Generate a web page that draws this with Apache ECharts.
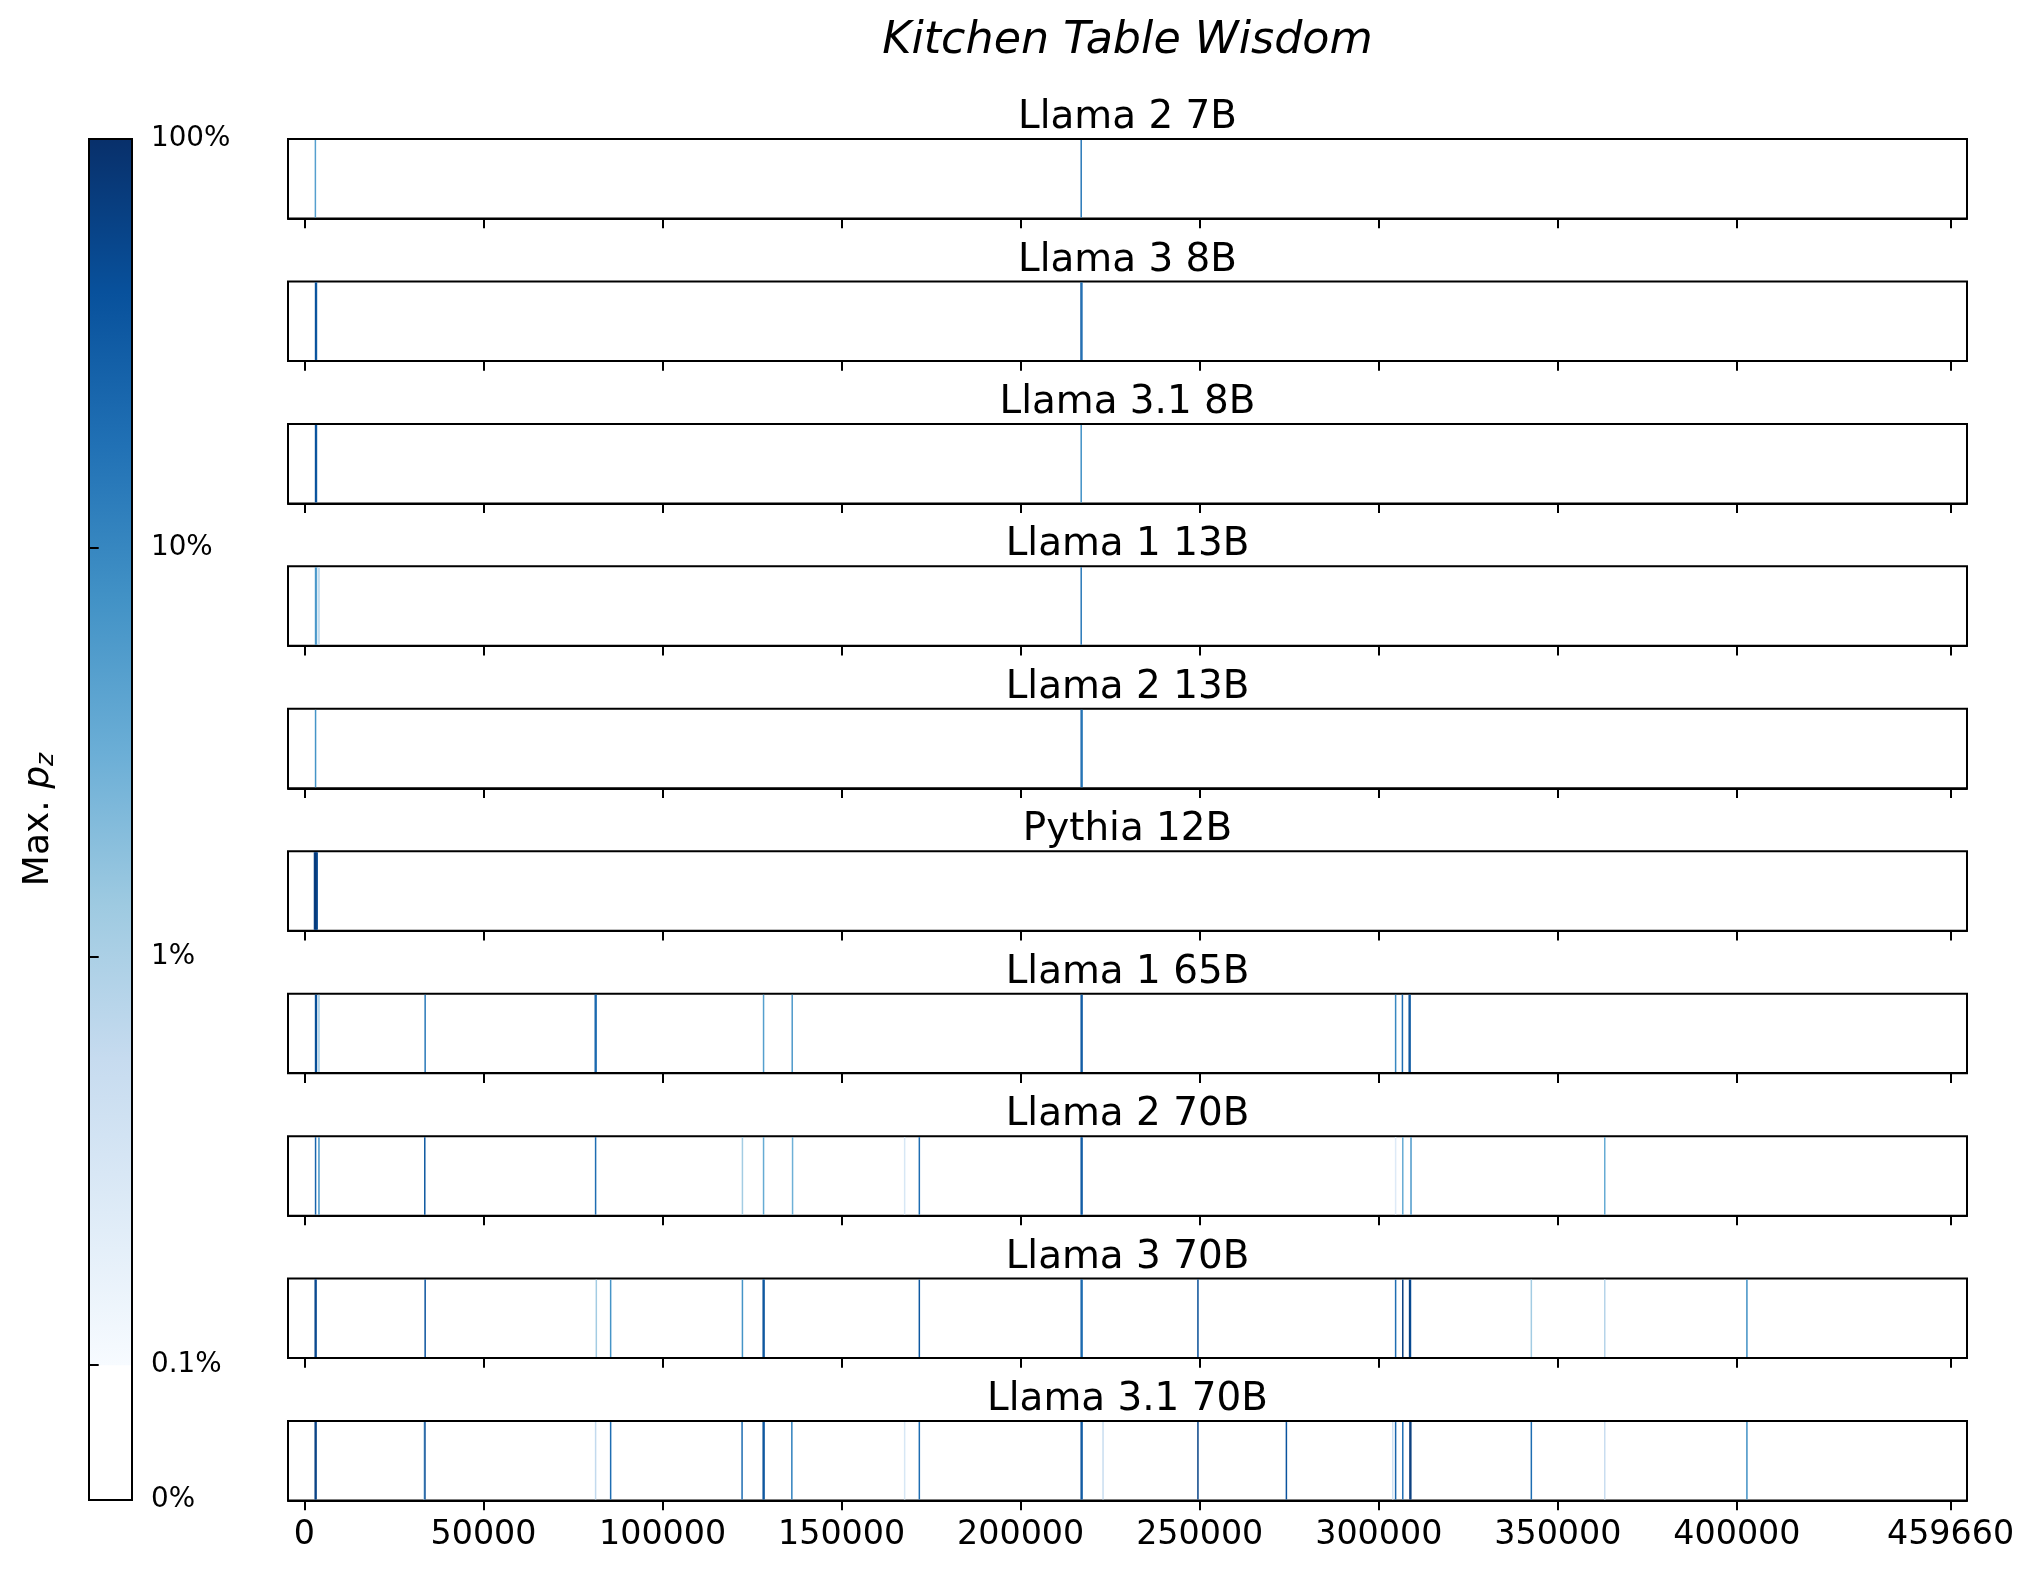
<!DOCTYPE html>
<html>
<head>
<meta charset="utf-8">
<title>Kitchen Table Wisdom</title>
<script src="https://cdn.jsdelivr.net/npm/echarts@6/dist/echarts.min.js"></script>
<style>
  html, body { margin: 0; padding: 0; background: #fff; }
  #chart { width: 2035px; height: 1573px; }
</style>
</head>
<body>
<div id="chart"></div>
<script>
// ── data ──────────────────────────────────────────────
const MODELS = [
  'Llama 2 7B', 'Llama 3 8B', 'Llama 3.1 8B', 'Llama 1 13B', 'Llama 2 13B',
  'Pythia 12B', 'Llama 1 65B', 'Llama 2 70B', 'Llama 3 70B', 'Llama 3.1 70B',
]
const N_TOKENS    = 459660
const X_TICKS     = [0, 50000, 100000, 150000, 200000, 250000, 300000, 350000, 400000, 459660]
const CBAR_TICKS  = [0, 0.001, 0.01, 0.1, 1]
const CBAR_LABELS = ['0%', '0.1%', '1%', '10%', '100%']

// token positions with a hit, and the max p_z found there (fraction)
const LLAMA2_7B_POS   = [3050, 216900]
const LLAMA2_7B_PZ    = [0.05, 0.15]
const LLAMA3_8B_POS   = [3100, 3350, 216850, 217100]
const LLAMA3_8B_PZ    = [0.45, 0.35, 0.3, 0.2]
const LLAMA31_8B_POS  = [3100, 3350, 216900]
const LLAMA31_8B_PZ   = [0.45, 0.35, 0.08]
const LLAMA1_13B_POS  = [3100, 3350, 4050, 216900]
const LLAMA1_13B_PZ   = [0.07, 0.05, 0.008, 0.15]
const LLAMA2_13B_POS  = [3100, 216900, 217150]
const LLAMA2_13B_PZ   = [0.07, 0.25, 0.15]
const PYTHIA_12B_POS  = [2800, 3050, 3300, 3550]
const PYTHIA_12B_PZ   = [0.6, 0.8, 0.8, 0.5]
const LLAMA1_65B_POS  = [3100, 3350, 4050, 33700, 81200, 81450, 128200, 136200,
                         216900, 217150, 304700, 306600, 308500, 308750]
const LLAMA1_65B_PZ   = [0.45, 0.45, 0.012, 0.15, 0.25, 0.2, 0.05, 0.06,
                         0.4, 0.3, 0.1, 0.2, 0.45, 0.3]
const LLAMA2_70B_POS  = [3100, 4050, 33600, 81300, 122300, 128200, 136300, 167600,
                         171700, 216900, 217150, 304700, 306700, 309000, 363100]
const LLAMA2_70B_PZ   = [0.25, 0.07, 0.35, 0.2, 0.012, 0.035, 0.03, 0.003,
                         0.2, 0.4, 0.3, 0.0025, 0.035, 0.06, 0.035]
const LLAMA3_70B_POS  = [3000, 3250, 33700, 81500, 85500, 122300, 128100, 128350,
                         171700, 216900, 217150, 249500, 304700, 306700, 308600,
                         308850, 342600, 363100, 402800]
const LLAMA3_70B_PZ   = [0.6, 0.5, 0.4, 0.012, 0.07, 0.07, 0.45, 0.35,
                         0.35, 0.3, 0.2, 0.45, 0.2, 0.7, 0.7,
                         0.5, 0.012, 0.008, 0.08]
const LLAMA31_70B_POS = [3000, 3250, 33400, 33650, 81300, 85500, 122200, 128100,
                         128350, 136100, 167600, 171700, 216900, 217150, 223000,
                         249500, 274200, 303900, 304700, 306700, 308700, 308950,
                         342600, 363100, 402800]
const LLAMA31_70B_PZ  = [0.7, 0.6, 0.008, 0.45, 0.006, 0.2, 0.2, 0.45,
                         0.35, 0.12, 0.003, 0.2, 0.45, 0.3, 0.005,
                         0.6, 0.4, 0.004, 0.25, 0.2, 0.8, 0.7,
                         0.2, 0.005, 0.08]

const POSITIONS = [LLAMA2_7B_POS, LLAMA3_8B_POS, LLAMA31_8B_POS, LLAMA1_13B_POS, LLAMA2_13B_POS,
                   PYTHIA_12B_POS, LLAMA1_65B_POS, LLAMA2_70B_POS, LLAMA3_70B_POS, LLAMA31_70B_POS]
const MAX_PZ    = [LLAMA2_7B_PZ, LLAMA3_8B_PZ, LLAMA31_8B_PZ, LLAMA1_13B_PZ, LLAMA2_13B_PZ,
                   PYTHIA_12B_PZ, LLAMA1_65B_PZ, LLAMA2_70B_PZ, LLAMA3_70B_PZ, LLAMA31_70B_PZ]

// ── scale / colours ───────────────────────────────────
const LIN_THRESH = 0.001
const LIN_SPAN   = 0.33          // linear part of the symlog norm, in decades
const BLUES = ['#f7fbff', '#deebf7', '#c6dbef', '#9ecae1', '#6baed6',
               '#4292c6', '#2171b5', '#08519c', '#08306b']

function symlog(p) {
  return p < LIN_THRESH ? (p / LIN_THRESH) * LIN_SPAN : LIN_SPAN + Math.log10(p / LIN_THRESH)
}
const S_MAX = symlog(1)

// ── layout ────────────────────────────────────────────
const FONT       = 'DejaVu Sans'
const PANEL_L    = 288
const PANEL_R    = 68
const PANEL_TOP  = 139
const PANEL_STEP = 142.45
const PANEL_H    = 79.5
const PANEL_CX   = 1127.5
const STRIPE_W   = 1.5
const CBAR       = { left: 89, width: 43, top: 139, height: 1361 }

const grids = [], xAxes = [], yAxes = [], series = [], texts = []

MODELS.forEach((name, i) => {
  const top = PANEL_TOP + i * PANEL_STEP
  grids.push({
    left: PANEL_L, right: PANEL_R, top, height: PANEL_H,
    show: true, borderColor: '#000', borderWidth: 2,
  })
  xAxes.push({
    type: 'value', gridIndex: i, min: -N_TOKENS * 0.01, max: N_TOKENS * 1.01, z: 5,
    axisLine:  { show: true, lineStyle: { color: '#000', width: 2 } },
    axisTick:  { show: true, customValues: X_TICKS, length: 9.7, lineStyle: { color: '#000', width: 2 } },
    axisLabel: { show: i === MODELS.length - 1, customValues: X_TICKS, color: '#000',
                 fontSize: 33.3, fontFamily: FONT, margin: 18, formatter: v => String(v) },
    splitLine: { show: false },
  })
  yAxes.push({ type: 'value', gridIndex: i, min: 0, max: 1, show: false })
  series.push({
    type: 'custom', xAxisIndex: i, yAxisIndex: i, name,
    data: POSITIONS[i].map((x, j) => [x, MAX_PZ[i][j], symlog(MAX_PZ[i][j])]),
    encode: { x: 0, y: 1 },
    renderItem(params, api) {
      const bot = api.coord([api.value(0), 0])
      const top = api.coord([api.value(0), 1])
      return {
        type: 'rect',
        shape: { x: bot[0] - STRIPE_W / 2, y: top[1] + 1, width: STRIPE_W, height: bot[1] - top[1] - 2 },
        style: { fill: api.visual('color') },
      }
    },
  })
  texts.push({
    type: 'text', x: PANEL_CX, y: top - 21,
    style: { text: name, fill: '#000', font: `38.9px "${FONT}"`, align: 'center', verticalAlign: 'middle' },
  })
})

// ── colourbar ─────────────────────────────────────────
const cb = MODELS.length
grids.push({ ...CBAR, show: true, borderColor: '#000', borderWidth: 2 })
xAxes.push({ type: 'value', gridIndex: cb, min: 0, max: 1, show: false })
yAxes.push({
  type: 'value', gridIndex: cb, min: 0, max: S_MAX, position: 'right', z: 5,
  axisLine:  { show: true, lineStyle: { color: '#000', width: 2 } },
  axisTick:  { show: true, customValues: CBAR_TICKS.map(symlog), length: 9.7, lineStyle: { color: '#000', width: 2 } },
  axisLabel: {
    customValues: CBAR_TICKS.map(symlog), color: '#000', fontSize: 27.8, fontFamily: FONT, margin: 19,
    padding: [14, 0, 0, 0],
    formatter: v => CBAR_LABELS[CBAR_TICKS.findIndex(t => Math.abs(symlog(t) - v) < 1e-6)] ?? '',
  },
  splitLine: { show: false },
})
series.push({
  type: 'custom', xAxisIndex: cb, yAxisIndex: cb, silent: true, z: 1,
  data: [[LIN_THRESH, 1]],
  renderItem(params, api) {
    const lo = api.coord([0, symlog(api.value(0))])
    const hi = api.coord([1, symlog(api.value(1))])
    const stops = BLUES.map((c, k) => ({ offset: 1 - k / (BLUES.length - 1), color: c }))
    return {
      type: 'rect',
      shape: { x: lo[0] + 1, y: hi[1] + 1, width: hi[0] - lo[0] - 2, height: lo[1] - hi[1] - 1 },
      style: { fill: new echarts.graphic.LinearGradient(0, 0, 0, 1, stops) },
    }
  },
})

texts.push({
  type: 'text', x: PANEL_CX, y: 41.5,
  style: { text: 'Kitchen Table Wisdom', fill: '#000', font: `italic 44.4px "${FONT}"`,
           align: 'center', verticalAlign: 'middle' },
})
texts.push({
  type: 'text', x: 39, y: CBAR.top + CBAR.height / 2, rotation: Math.PI / 2,
  style: {
    text: '{t|Max. }{p|p}{z|z}', align: 'center', verticalAlign: 'middle',
    rich: {
      t: { fontSize: 36, fontFamily: FONT, fill: '#000', lineHeight: 44 },
      p: { fontSize: 36, fontFamily: FONT, fontStyle: 'italic', fill: '#000', lineHeight: 44 },
      z: { fontSize: 25, fontFamily: FONT, fontStyle: 'italic', fill: '#000', lineHeight: 44, padding: [14, 0, 0, 0] },
    },
  },
})

// ── chart ─────────────────────────────────────────────
const chart = echarts.init(document.getElementById('chart'))
chart.setOption({
  animation: false,
  backgroundColor: '#fff',
  textStyle: { fontFamily: FONT },
  grid: grids,
  xAxis: xAxes,
  yAxis: yAxes,
  visualMap: {
    show: false, type: 'continuous', dimension: 2,
    seriesIndex: MODELS.map((_, i) => i),
    min: symlog(LIN_THRESH), max: S_MAX,
    inRange: { color: BLUES },
    outOfRange: { color: '#fff' },
  },
  series,
  graphic: texts,
})
</script>
</body>
</html>
